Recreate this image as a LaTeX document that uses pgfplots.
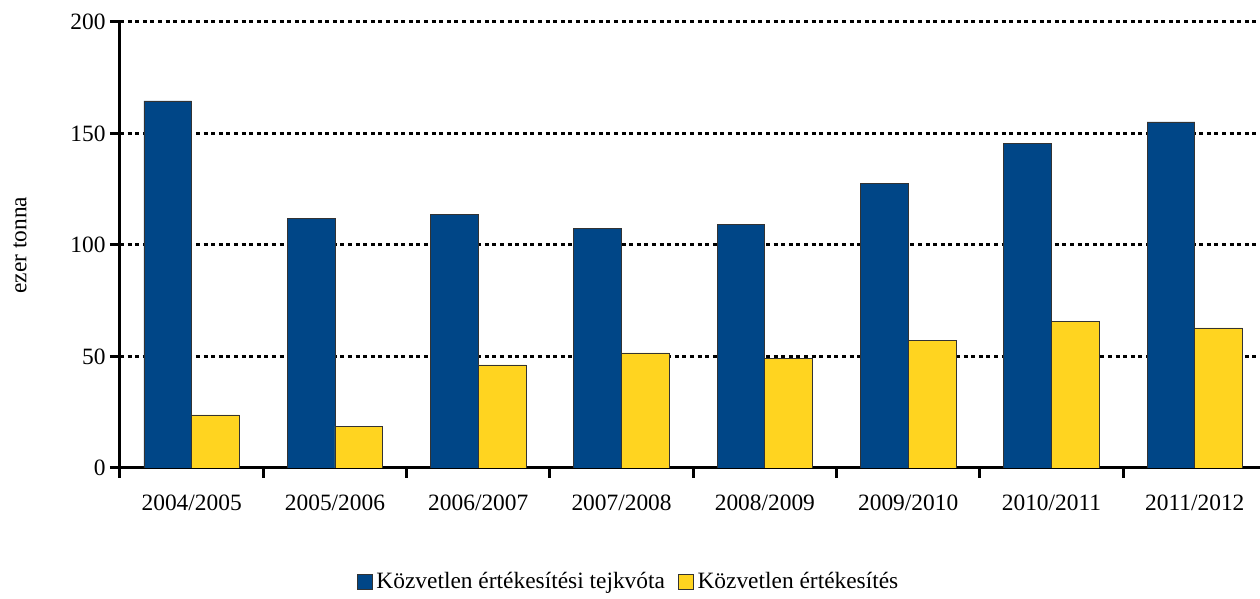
\documentclass[border=0pt]{standalone}
\usepackage{pgfplots}
\pgfplotsset{compat=1.18}
\usepackage{fontspec}
\setmainfont{Liberation Serif}
\definecolor{cblue}{RGB}{0,70,135}
\definecolor{cyellow}{RGB}{255,212,32}
\begin{document}
\fontsize{11.7pt}{14pt}\selectfont
\begin{tikzpicture}
\begin{axis}[
  at={(0,0)}, anchor=south west,
  scale only axis, width=570pt, height=223pt,
  xmin=-0.5, xmax=7.455, ymin=0, ymax=200,
  ybar=0pt, bar width=0.333,
  /pgf/number format/assume math mode=true,
  ytick={0,50,100,150,200},
  xtick={0,...,7},
  xticklabels={2004/2005,2005/2006,2006/2007,2007/2008,2008/2009,2009/2010,2010/2011,2011/2012},
  xtick style={draw=none},
  extra x ticks={-0.5,0.5,1.5,2.5,3.5,4.5,5.5,6.5},
  extra x tick labels={},
  extra x tick style={xtick style={draw=black, line width=1.5pt}, major tick length=5pt},
  ytick style={draw=black, line width=1.5pt},
  major tick length=5pt,
  tick align=outside,
  axis x line*=bottom, axis y line*=left,
  axis line style={line width=1.5pt, -},
  ymajorgrids,
  grid style={black, line width=1.5pt, dash pattern=on 2pt off 1.8pt},
  tick label style={font=\fontsize{11.7pt}{14pt}\selectfont},
  yticklabel style={inner sep=2pt},
  xticklabel style={yshift=-4.5pt},
  ylabel={ezer tonna},
  ylabel style={at={(axis description cs:-0.0877,0.5)}, rotate=0, anchor=center, font=\fontsize{11.7pt}{14pt}\selectfont},
  legend style={at={(axis description cs:0.447,-0.256)}, anchor=center, draw=none,
    legend columns=-1, font=\fontsize{11.7pt}{14pt}\selectfont,
    /tikz/every even column/.append style={column sep=4.5pt}},
  legend image code/.code={\draw[#1, line width=0.4pt] (0pt,-3.7pt) rectangle (7.4pt,3.7pt);},
]
\addplot[fill=cblue, draw=black!80, line width=0.4pt] coordinates {
  (0,164.6) (1,112.1) (2,113.5) (3,107.6) (4,109.4) (5,127.8) (6,145.7) (7,155.2)};
\addplot[fill=cyellow, draw=black!80, line width=0.4pt] coordinates {
  (0,23.8) (1,18.8) (2,46.2) (3,51.6) (4,49.3) (5,57.0) (6,65.9) (7,62.8)};
\legend{Közvetlen értékesítési tejkvóta, Közvetlen értékesítés}
\end{axis}
\pgfresetboundingbox
\path (-60pt,-65.5pt) rectangle (570pt,234pt);
\end{tikzpicture}
\end{document}
